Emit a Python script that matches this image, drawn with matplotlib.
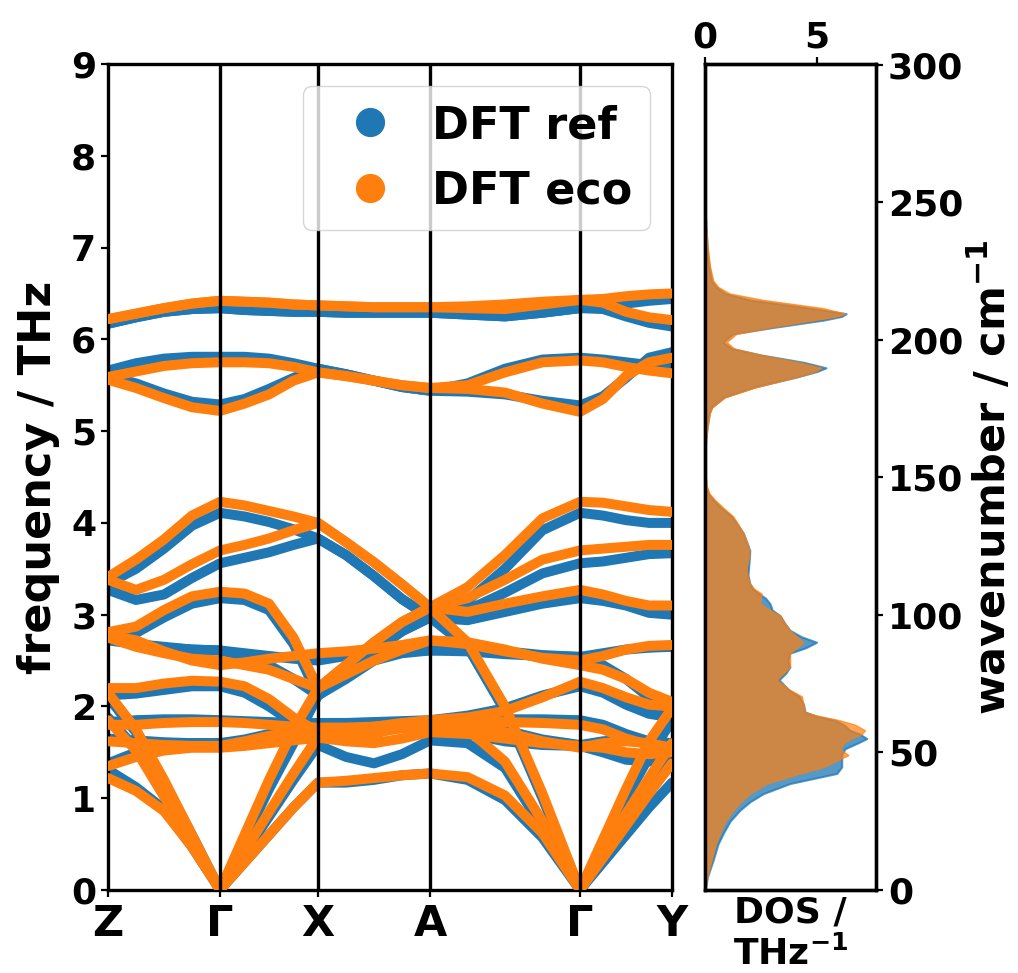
import numpy as np
import matplotlib
matplotlib.use("Agg")
import matplotlib.pyplot as plt
from matplotlib.lines import Line2D

# ---------------- data ----------------
path_labels = ["Z", "Γ", "X", "A", "Γ", "Y"]
segment_lengths = [112, 98, 112, 150, 92]
knot_fractions = [0.0, 0.25, 0.5, 0.75, 1.0]

# DFT ref (blue) bands, THz, five segments x five knots
ref_b01 = [[1.31, 1.12, 0.88, 0.47, 0.0], [0.0, 0.30, 0.60, 0.90, 1.17], [1.17, 1.17, 1.20, 1.25, 1.27], [1.27, 1.20, 0.98, 0.57, 0.0], [0.0, 0.30, 0.60, 0.90, 1.17]]
ref_b02 = [[1.88, 1.54, 1.03, 0.51, 0.0], [0.0, 0.40, 0.80, 1.20, 1.58], [1.58, 1.45, 1.38, 1.48, 1.63], [1.63, 1.60, 1.33, 0.68, 0.0], [0.0, 0.40, 0.80, 1.18, 1.50]]
ref_b03 = [[2.10, 1.72, 1.18, 0.60, 0.0], [0.0, 0.55, 1.10, 1.60, 2.12], [2.12, 2.30, 2.50, 2.58, 2.61], [2.61, 2.62, 2.60, 2.56, 2.54], [2.54, 2.45, 2.30, 2.10, 1.90]]
ref_b04 = [[2.12, 2.14, 2.18, 2.22, 2.22], [2.22, 2.15, 2.00, 1.82, 1.70], [1.70, 1.72, 1.76, 1.80, 1.85], [1.85, 1.90, 1.98, 2.12, 2.22], [2.22, 2.15, 2.02, 1.92, 1.88]]
ref_b05 = [[1.83, 1.85, 1.86, 1.86, 1.85], [1.85, 1.84, 1.83, 1.82, 1.82], [1.82, 1.82, 1.83, 1.84, 1.85], [1.85, 1.86, 1.86, 1.86, 1.85], [1.85, 1.80, 1.70, 1.62, 1.60]]
ref_b06 = [[1.38, 1.50, 1.57, 1.60, 1.60], [1.60, 1.62, 1.65, 1.68, 1.72], [1.72, 1.72, 1.74, 1.78, 1.80], [1.80, 1.70, 1.62, 1.58, 1.57], [1.57, 1.50, 1.42, 1.40, 1.42]]
ref_b07 = [[1.65, 1.63, 1.61, 1.60, 1.60], [1.60, 1.64, 1.70, 1.74, 1.77], [1.77, 1.76, 1.75, 1.78, 1.82], [1.82, 1.80, 1.74, 1.64, 1.58], [1.58, 1.62, 1.64, 1.62, 1.58]]
ref_b08 = [[2.72, 2.68, 2.64, 2.62, 2.61], [2.61, 2.58, 2.55, 2.52, 2.50], [2.50, 2.55, 2.62, 2.62, 2.61], [2.61, 2.60, 2.57, 2.55, 2.54], [2.54, 2.58, 2.62, 2.64, 2.65]]
ref_b09 = [[2.74, 2.80, 2.97, 3.12, 3.18], [3.18, 3.16, 3.05, 2.68, 2.12], [2.12, 2.35, 2.60, 2.82, 2.97], [2.97, 2.65, 1.95, 1.00, 0.0], [0.0, 0.50, 1.00, 1.45, 1.85]]
ref_b10 = [[2.74, 2.68, 2.65, 2.62, 2.61], [2.61, 2.55, 2.45, 2.30, 2.12], [2.12, 2.35, 2.60, 2.82, 2.97], [2.97, 2.94, 3.03, 3.12, 3.18], [3.18, 3.15, 3.10, 3.02, 3.00]]
ref_b11 = [[3.34, 3.50, 3.72, 3.97, 4.11], [4.11, 4.07, 4.01, 3.93, 3.83], [3.83, 3.65, 3.42, 3.17, 2.97], [2.97, 3.15, 3.50, 3.92, 4.11], [4.11, 4.08, 4.03, 4.00, 4.00]]
ref_b12 = [[3.27, 3.16, 3.22, 3.40, 3.56], [3.56, 3.62, 3.68, 3.76, 3.83], [3.83, 3.65, 3.42, 3.17, 2.97], [2.97, 3.05, 3.24, 3.45, 3.56], [3.56, 3.58, 3.62, 3.66, 3.67]]
ref_b13 = [[5.66, 5.74, 5.79, 5.81, 5.81], [5.81, 5.81, 5.79, 5.74, 5.68], [5.68, 5.62, 5.55, 5.48, 5.44], [5.44, 5.52, 5.68, 5.78, 5.80], [5.80, 5.78, 5.75, 5.72, 5.70]]
ref_b14 = [[5.60, 5.52, 5.41, 5.32, 5.29], [5.29, 5.35, 5.46, 5.58, 5.68], [5.68, 5.62, 5.55, 5.48, 5.44], [5.44, 5.43, 5.40, 5.33, 5.28], [5.28, 5.38, 5.58, 5.80, 5.86]]
ref_b15 = [[6.17, 6.24, 6.30, 6.33, 6.34], [6.34, 6.32, 6.31, 6.30, 6.30], [6.30, 6.29, 6.29, 6.29, 6.29], [6.29, 6.27, 6.25, 6.29, 6.34], [6.34, 6.36, 6.39, 6.42, 6.44]]
ref_b16 = [[6.17, 6.24, 6.30, 6.33, 6.34], [6.34, 6.32, 6.31, 6.30, 6.30], [6.30, 6.29, 6.29, 6.29, 6.29], [6.29, 6.27, 6.25, 6.29, 6.34], [6.34, 6.33, 6.25, 6.18, 6.14]]

# DFT eco (orange) bands
eco_b01 = [[1.22, 1.08, 0.86, 0.47, 0.0], [0.0, 0.30, 0.60, 0.90, 1.17], [1.17, 1.19, 1.22, 1.25, 1.27], [1.27, 1.23, 1.03, 0.62, 0.0], [0.0, 0.35, 0.70, 1.05, 1.38]]
eco_b02 = [[1.85, 1.52, 1.02, 0.51, 0.0], [0.0, 0.42, 0.85, 1.27, 1.67], [1.67, 1.66, 1.70, 1.78, 1.85], [1.85, 1.75, 1.40, 0.75, 0.0], [0.0, 0.42, 0.83, 1.22, 1.60]]
eco_b03 = [[2.15, 1.75, 1.20, 0.60, 0.0], [0.0, 0.60, 1.20, 1.75, 2.20], [2.20, 2.35, 2.50, 2.62, 2.72], [2.72, 2.70, 2.62, 2.52, 2.45], [2.45, 2.40, 2.30, 2.15, 2.05]]
eco_b04 = [[2.20, 2.20, 2.25, 2.28, 2.27], [2.27, 2.22, 2.08, 1.88, 1.72], [1.72, 1.75, 1.78, 1.82, 1.85], [1.85, 1.88, 1.95, 2.10, 2.27], [2.27, 2.20, 2.10, 2.02, 2.00]]
eco_b05 = [[1.80, 1.80, 1.82, 1.83, 1.83], [1.83, 1.82, 1.80, 1.78, 1.77], [1.77, 1.77, 1.78, 1.80, 1.82], [1.82, 1.83, 1.83, 1.82, 1.80], [1.80, 1.75, 1.65, 1.58, 1.55]]
eco_b06 = [[1.35, 1.45, 1.52, 1.55, 1.55], [1.55, 1.57, 1.60, 1.63, 1.66], [1.66, 1.62, 1.60, 1.65, 1.72], [1.72, 1.70, 1.65, 1.60, 1.57], [1.57, 1.55, 1.50, 1.48, 1.50]]
eco_b07 = [[1.62, 1.60, 1.58, 1.57, 1.57], [1.57, 1.62, 1.68, 1.72, 1.75], [1.75, 1.73, 1.72, 1.76, 1.80], [1.80, 1.78, 1.72, 1.62, 1.55], [1.55, 1.60, 1.62, 1.60, 1.55]]
eco_b08 = [[2.78, 2.72, 2.60, 2.50, 2.45], [2.45, 2.48, 2.52, 2.55, 2.58], [2.58, 2.60, 2.63, 2.67, 2.72], [2.72, 2.68, 2.60, 2.53, 2.50], [2.50, 2.55, 2.62, 2.66, 2.67]]
eco_b09 = [[2.81, 2.87, 3.05, 3.20, 3.25], [3.25, 3.23, 3.12, 2.75, 2.20], [2.20, 2.45, 2.70, 2.92, 3.08], [3.08, 2.70, 2.00, 1.05, 0.0], [0.0, 0.55, 1.10, 1.62, 1.98]]
eco_b10 = [[2.75, 2.65, 2.58, 2.52, 2.50], [2.50, 2.45, 2.40, 2.30, 2.20], [2.20, 2.45, 2.70, 2.92, 3.08], [3.08, 3.03, 3.12, 3.20, 3.27], [3.27, 3.22, 3.15, 3.10, 3.10]]
eco_b11 = [[3.41, 3.60, 3.82, 4.08, 4.23], [4.23, 4.19, 4.13, 4.07, 4.00], [4.00, 3.79, 3.57, 3.33, 3.08], [3.08, 3.30, 3.65, 4.05, 4.23], [4.23, 4.22, 4.18, 4.14, 4.12]]
eco_b12 = [[3.38, 3.27, 3.38, 3.55, 3.70], [3.70, 3.76, 3.83, 3.92, 4.00], [4.00, 3.79, 3.57, 3.33, 3.08], [3.08, 3.18, 3.38, 3.60, 3.70], [3.70, 3.72, 3.74, 3.76, 3.76]]
eco_b13 = [[5.59, 5.65, 5.71, 5.74, 5.75], [5.75, 5.75, 5.74, 5.70, 5.64], [5.64, 5.60, 5.55, 5.50, 5.47], [5.47, 5.50, 5.64, 5.75, 5.77], [5.77, 5.75, 5.70, 5.66, 5.63]]
eco_b14 = [[5.56, 5.47, 5.36, 5.26, 5.22], [5.22, 5.30, 5.40, 5.55, 5.64], [5.64, 5.60, 5.55, 5.50, 5.47], [5.47, 5.46, 5.42, 5.30, 5.21], [5.21, 5.35, 5.60, 5.75, 5.80]]
eco_b15 = [[6.22, 6.28, 6.34, 6.39, 6.42], [6.42, 6.41, 6.40, 6.38, 6.37], [6.37, 6.36, 6.35, 6.35, 6.35], [6.35, 6.36, 6.38, 6.41, 6.43], [6.43, 6.44, 6.47, 6.49, 6.50]]
eco_b16 = [[6.22, 6.28, 6.34, 6.39, 6.42], [6.42, 6.41, 6.40, 6.38, 6.37], [6.37, 6.36, 6.35, 6.35, 6.35], [6.35, 6.34, 6.33, 6.38, 6.43], [6.43, 6.40, 6.30, 6.24, 6.21]]

ref_bands = [ref_b01, ref_b02, ref_b03, ref_b04, ref_b05, ref_b06, ref_b07, ref_b08,
             ref_b09, ref_b10, ref_b11, ref_b12, ref_b13, ref_b14, ref_b15, ref_b16]
eco_bands = [eco_b01, eco_b02, eco_b03, eco_b04, eco_b05, eco_b06, eco_b07, eco_b08,
             eco_b09, eco_b10, eco_b11, eco_b12, eco_b13, eco_b14, eco_b15, eco_b16]

# DOS (THz^-1) sampled at frequencies (THz)
dos_freq = [0.00, 0.15, 0.33, 0.50, 0.62, 0.75, 0.87, 0.96, 1.05, 1.16, 1.27, 1.34, 1.41, 1.47,
            1.54, 1.60, 1.65, 1.70, 1.74, 1.80, 1.85, 1.90, 1.94, 2.02, 2.11, 2.18, 2.29, 2.36,
            2.43, 2.50, 2.58, 2.64, 2.70, 2.76, 2.83, 2.91, 2.99, 3.05, 3.12, 3.18, 3.23, 3.28,
            3.34, 3.43, 3.52, 3.61, 3.70, 3.80, 3.89, 3.98, 4.07, 4.17, 4.25, 4.32, 4.40, 4.50,
            4.70, 4.90, 5.05, 5.20, 5.26, 5.37, 5.48, 5.59, 5.65, 5.69, 5.75, 5.83, 5.90, 5.97,
            6.06, 6.13, 6.21, 6.25, 6.28, 6.34, 6.43, 6.50, 6.57, 6.64, 6.80, 7.00, 7.20, 7.40, 7.60]
dos_ref = [0.0, 0.12, 0.37, 0.58, 0.82, 1.12, 1.56, 2.0, 2.6, 3.79, 5.88, 6.1, 6.1, 6.1,
           6.25, 6.8, 7.22, 6.9, 6.47, 6.2, 5.8, 4.9, 4.46, 4.4, 4.2, 3.75, 3.3, 3.6,
           3.79, 3.7, 3.79, 4.5, 4.98, 4.3, 3.79, 3.55, 3.35, 3.0, 2.9, 2.7, 2.4, 2.15,
           2.0, 1.92, 1.95, 1.98, 2.0, 1.85, 1.71, 1.45, 1.2, 0.7, 0.38, 0.15, 0.05, 0.02,
           0.01, 0.03, 0.1, 0.2, 0.3, 0.85, 2.2, 4.1, 5.0, 5.4, 4.4, 2.5, 1.2, 0.8,
           1.26, 3.05, 5.3, 6.1, 6.3, 4.7, 2.0, 0.9, 0.5, 0.3, 0.18, 0.1, 0.05, 0.01, 0.0]
dos_eco = [0.0, 0.1, 0.3, 0.48, 0.67, 0.9, 1.26, 1.6, 2.0, 2.75, 4.24, 5.28, 5.88, 6.4,
           6.0, 6.2, 6.5, 7.0, 7.14, 6.7, 6.0, 5.0, 4.46, 4.4, 4.32, 3.79, 3.2, 3.5,
           3.79, 3.8, 3.79, 4.1, 4.39, 4.1, 3.79, 3.55, 3.35, 2.9, 2.46, 2.5, 2.53, 2.2,
           2.0, 1.9, 1.86, 1.95, 1.98, 1.85, 1.71, 1.5, 1.26, 0.8, 0.45, 0.2, 0.08, 0.03,
           0.02, 0.05, 0.12, 0.22, 0.32, 0.9, 2.3, 4.1, 4.9, 5.2, 4.2, 2.5, 1.3, 0.97,
           1.4, 2.9, 4.9, 5.9, 6.25, 5.28, 2.6, 1.1, 0.6, 0.37, 0.22, 0.12, 0.06, 0.02, 0.0]

series_labels = ["DFT ref", "DFT eco"]
wavenumber_ticks = [0, 50, 100, 150, 200, 250, 300]
THZ_TO_CM = 33.35641

# ---------------- figure ----------------
BLUE = "#1f77b4"
ORANGE = "#ff7f0e"
plt.rcParams["font.family"] = ["DejaVu Sans"]
plt.rcParams["font.weight"] = "bold"

fig = plt.figure(figsize=(10.18, 9.73), dpi=100)
ax = fig.add_axes([0.1061, 0.0853, 0.5540, 0.8489])
axd = fig.add_axes([0.6925, 0.0853, 0.1680, 0.8489])

cum = np.concatenate([[0], np.cumsum(segment_lengths)])


def band_xy(band):
    xs, ys = [], []
    for s, seg in enumerate(band):
        for f, v in zip(knot_fractions, seg):
            xs.append(cum[s] + f * segment_lengths[s])
            ys.append(v)
    return xs, ys


for band in ref_bands:
    x, y = band_xy(band)
    ax.plot(x, y, color=BLUE, lw=7.2, solid_capstyle="round", solid_joinstyle="round", zorder=2)
for band in eco_bands:
    x, y = band_xy(band)
    ax.plot(x, y, color=ORANGE, lw=7.2, solid_capstyle="round", solid_joinstyle="round", zorder=3)

for xv in cum[1:-1]:
    ax.axvline(xv, color="black", lw=2.4, zorder=5)

ax.set_xlim(cum[0], cum[-1])
ax.set_ylim(0, 9)
ax.set_xticks(cum)
ax.set_xticklabels(path_labels, fontsize=31, fontweight="bold")
ax.set_yticks(range(10))
ax.set_yticklabels([str(i) for i in range(10)], fontsize=26, fontweight="bold")
ax.tick_params(axis="both", direction="out", length=5, width=1.6)
ax.tick_params(axis="x", pad=4)
ax.set_ylabel("frequency / THz", fontsize=32, fontweight="bold", labelpad=8)
for sp in ax.spines.values():
    sp.set_linewidth(2.4)

handles = [Line2D([], [], marker="o", ls="", color=BLUE, markersize=20),
           Line2D([], [], marker="o", ls="", color=ORANGE, markersize=20)]
leg = ax.legend(handles, series_labels, loc="upper right",
                prop={"size": 32, "weight": "bold"}, handletextpad=0.3,
                handlelength=2.2)
leg.set_zorder(10)

# DOS panel
axd.fill_betweenx(dos_freq, 0, dos_ref, color=BLUE, alpha=0.75, lw=1.5, zorder=2)
axd.fill_betweenx(dos_freq, 0, dos_eco, color=ORANGE, alpha=0.7, lw=1.0, zorder=3)
axd.set_ylim(0, 9)
axd.set_xlim(0, 7.63)
axd.xaxis.tick_top()
axd.set_xticks([0, 5])
axd.set_xticklabels(["0", "5"], fontsize=26, fontweight="bold")
axd.set_yticks([])
axd.tick_params(axis="x", direction="out", length=5, width=1.6, pad=2)
axd.set_xlabel("DOS /\nTHz$^{\\mathbf{-1}}$", fontsize=26, fontweight="bold", labelpad=4)
axd.xaxis.set_label_position("bottom")
for sp in axd.spines.values():
    sp.set_linewidth(2.4)

axw = axd.twinx()
axw.set_ylim(0, 9 * THZ_TO_CM)
axw.set_yticks(wavenumber_ticks)
axw.set_yticklabels([str(t) for t in wavenumber_ticks], fontsize=26, fontweight="bold")
axw.tick_params(axis="y", direction="out", length=5, width=1.6)
axw.set_ylabel("wavenumber / cm$^{\\mathbf{-1}}$", fontsize=31, fontweight="bold", labelpad=4)
for sp in axw.spines.values():
    sp.set_linewidth(2.4)

fig.savefig("out.png", dpi=100)
